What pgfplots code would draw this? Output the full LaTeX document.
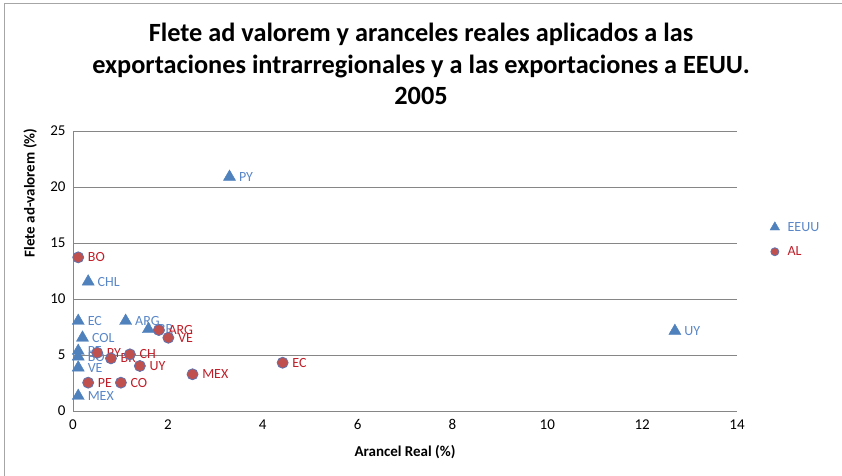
\documentclass[border=0pt]{standalone}
\usepackage{fontspec}
\setmainfont{Carlito}
\usepackage{pgfplots}
\pgfplotsset{compat=1.18}
\definecolor{tri}{RGB}{79,129,189}
\definecolor{cir}{RGB}{192,80,77}
\definecolor{cedge}{RGB}{95,115,175}
\definecolor{blab}{RGB}{90,135,200}
\definecolor{rlab}{RGB}{192,30,40}
\definecolor{gridc}{RGB}{134,134,134}
\pgfplotstableread{
x y label
3.30 20.90 PY
0.32 11.55 CHL
0.11 8.04 EC
1.11 8.04 ARG
1.59 7.30 BR
0.20 6.54 COL
0.11 5.36 PE
0.11 4.85 BO
0.11 3.87 VE
0.11 1.34 MEX
12.69 7.14 UY
}\eeuu
\pgfplotstableread{
x y label
0.11 13.72 BO
1.81 7.23 ARG
2.01 6.54 VE
0.51 5.20 PY
0.80 4.70 BR
1.20 5.06 CH
1.41 4.02 UY
0.32 2.53 PE
1.01 2.53 CO
2.52 3.28 MEX
4.42 4.31 EC
}\al
\begin{document}
\begin{tikzpicture}
\path[use as bounding box] (0pt,0pt) rectangle (842pt,475pt);
\draw[gray!70, line width=1pt] (4pt,-5pt) -- (4pt,471pt) -- (850pt,471pt);
\node[font=\fontsize{26.3}{31.5}\selectfont\bfseries, align=center] at (421pt,411pt) {Flete ad valorem y aranceles reales aplicados a las\\exportaciones intrarregionales y a las exportaciones a EEUU.\\2005};
\begin{axis}[at={(73pt,64pt)}, anchor=south west, scale only axis, width=664pt, height=280pt,
  xmin=0, xmax=14, ymin=0, ymax=25,
  xtick={0,2,...,14}, ytick={0,5,...,25},
  ymajorgrids, major grid style={gridc, line width=0.8pt},
  axis x line*=bottom, axis y line*=left,
  axis line style={gridc, line width=0.8pt, -},
  tick style={draw=none},
  /pgf/number format/assume math mode=true,
  ticklabel style={font=\fontsize{15}{18}\selectfont},
  xticklabel style={yshift=-5pt},
  yticklabel style={xshift=-4pt},
  xlabel={Arancel Real (\%)}, ylabel={Flete ad-valorem (\%)},
  label style={font=\fontsize{15}{18}\selectfont\bfseries},
  xlabel style={at={(axis description cs:0.5,-0.146)}, anchor=center},
  ylabel style={at={(axis description cs:-0.0643,0.779)}, anchor=center},
  clip=false,
  point meta=explicit symbolic,
  nodes near coords,
  every node near coord/.append style={anchor=west, xshift=6pt, font=\fontsize{14}{16}\selectfont},
  legend style={at={(axis description cs:1.045,0.6125)}, anchor=west, draw=none, fill=none,
    font=\fontsize{14}{16}\selectfont, row sep=10pt,
    /tikz/every odd column/.append style={column sep=6pt}},
  legend cell align=left,
]
\addplot[only marks, mark=triangle*, mark size=7pt, mark options={fill=tri, draw=tri},
  nodes near coords style={text=blab}, legend image post style={mark size=5.5pt}] table[x=x, y=y, meta=label] {\eeuu};
\addlegendentry{\textcolor{blab}{EEUU}}
\addplot[only marks, mark=*, mark size=5.5pt, mark options={fill=cir, draw=cedge, line width=0.8pt},
  nodes near coords style={text=rlab}, legend image post style={mark size=4pt}] table[x=x, y=y, meta=label] {\al};
\addlegendentry{\textcolor{rlab}{AL}}
\end{axis}
\end{tikzpicture}
\end{document}
